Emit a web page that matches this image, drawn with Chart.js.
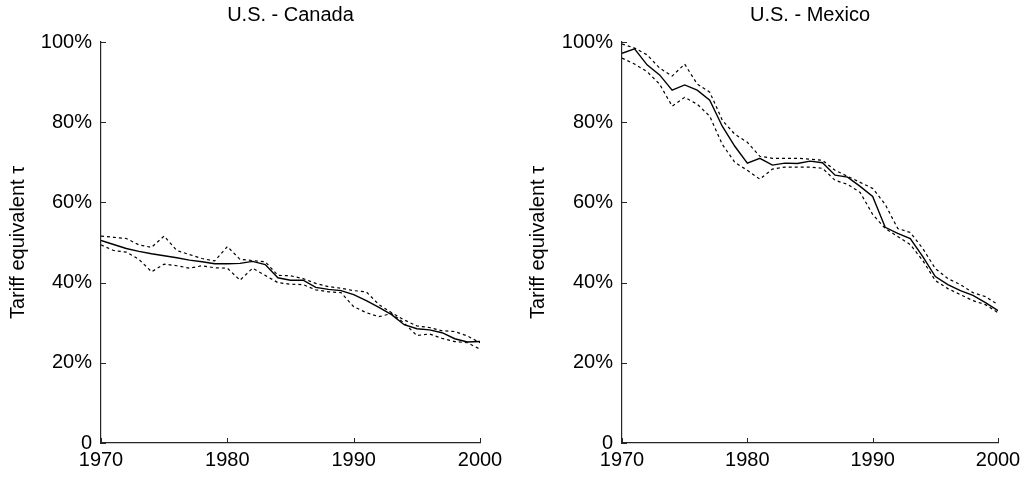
<!DOCTYPE html>
<html>
<head>
<meta charset="utf-8">
<script src="https://cdn.jsdelivr.net/npm/chart.js@4.4.1/dist/chart.umd.min.js"></script>
<style>
  html, body { margin: 0; padding: 0; background: #fff; }
  canvas { position: absolute; top: 0; }
</style>
</head>
<body>
<canvas id="canada" width="513" height="477" style="left:0"></canvas>
<canvas id="mexico" width="513" height="477" style="left:513px"></canvas>
<script>
const years = [1970, 1971, 1972, 1973, 1974, 1975, 1976, 1977, 1978, 1979,
  1980, 1981, 1982, 1983, 1984, 1985, 1986, 1987, 1988, 1989,
  1990, 1991, 1992, 1993, 1994, 1995, 1996, 1997, 1998, 1999, 2000];

// U.S. - Canada
const canadaMid = [50.5, 49.5, 48.5, 47.8, 47.2, 46.7, 46.2, 45.6, 45.2, 44.7,
  44.7, 44.8, 45.3, 44.5, 41.2, 40.6, 40.6, 38.8, 38.3, 38.0,
  37.0, 35.5, 33.8, 32.0, 29.5, 28.5, 28.2, 27.5, 26.0, 25.2, 25.3];
const canadaHigh = [51.6, 51.3, 51.0, 49.4, 48.8, 51.6, 48.0, 47.0, 46.0, 45.4,
  49.0, 45.8, 45.5, 45.2, 41.8, 41.7, 41.0, 39.8, 39.0, 38.6,
  38.0, 37.7, 34.5, 32.5, 30.7, 29.2, 28.8, 28.0, 27.8, 26.7, 25.0];
const canadaLow = [49.4, 48.0, 47.6, 45.8, 42.7, 44.6, 44.2, 43.6, 44.2, 43.7,
  43.6, 40.6, 43.6, 41.8, 40.0, 39.6, 39.5, 38.2, 37.7, 37.5,
  34.0, 32.5, 31.5, 32.3, 29.9, 26.8, 27.2, 26.1, 25.3, 25.0, 23.4];

// U.S. - Mexico
const mexicoMid = [97.2, 98.3, 94.3, 91.8, 88.0, 89.3, 88.0, 85.5, 79.0, 74.0,
  69.8, 71.0, 69.3, 69.8, 69.7, 70.3, 69.9, 66.8, 66.3, 64.0,
  61.5, 53.8, 52.3, 51.0, 46.5, 41.5, 39.5, 38.0, 36.8, 35.0, 33.0];
const mexicoHigh = [99.5, 98.5, 96.8, 93.5, 91.5, 94.5, 89.5, 87.5, 80.5, 77.0,
  75.0, 71.5, 71.0, 71.0, 71.0, 70.8, 70.5, 68.0, 66.5, 65.0,
  63.5, 59.5, 53.5, 52.5, 48.5, 43.5, 41.0, 39.5, 37.5, 36.5, 34.5];
const mexicoLow = [96.0, 94.5, 92.6, 89.5, 84.0, 86.2, 84.5, 81.5, 74.5, 70.0,
  68.0, 65.8, 68.3, 68.8, 68.8, 68.8, 68.5, 65.5, 64.5, 62.5,
  57.0, 53.5, 51.5, 49.5, 45.5, 40.5, 38.5, 37.0, 35.5, 34.5, 32.5];

const yTicks = [0, 20, 40, 60, 80, 100];
const xTicks = [1970, 1980, 1990, 2000];
const FONT = "'Liberation Sans', Arial, sans-serif";

// matlab style: title over the plot area and ticks pointing inside
const matlabAxes = {
  id: 'matlabAxes',
  afterDraw(chart, args, opts) {
    const { ctx, chartArea: a, scales: { x, y } } = chart;
    ctx.save();
    ctx.strokeStyle = '#262626';
    ctx.lineWidth = 1;
    ctx.beginPath();
    xTicks.forEach(v => {
      const px = Math.round(x.getPixelForValue(v)) + 0.5;
      ctx.moveTo(px, a.bottom);
      ctx.lineTo(px, a.bottom - 5);
    });
    yTicks.forEach(v => {
      const py = Math.round(y.getPixelForValue(v)) + 0.5;
      ctx.moveTo(a.left, py);
      ctx.lineTo(a.left + 5, py);
    });
    ctx.stroke();
    ctx.font = '20px ' + FONT;
    ctx.fillStyle = '#000';
    ctx.textAlign = 'center';
    ctx.textBaseline = 'middle';
    ctx.fillText(opts.text, (a.left + a.right) / 2, 15);
    ctx.restore();
  }
};

function line(values, dashed) {
  return {
    data: values.map((v, i) => ({ x: years[i], y: v })),
    borderColor: '#000',
    borderWidth: dashed ? 1.2 : 1.4,
    borderDash: dashed ? [3, 3] : [],
    pointRadius: 0,
    tension: 0,
    fill: false,
  };
}

function makeChart(id, title, mid, high, low, pad, yWidth, titlePad) {
  const ctx = document.getElementById(id).getContext('2d');
  return new Chart(ctx, {
    type: 'line',
    data: {
      datasets: [line(high, true), line(low, true), line(mid, false)],
    },
    options: {
      responsive: false,
      animation: false,
      layout: { padding: pad },
      plugins: {
        legend: { display: false },
        tooltip: { enabled: false },
        matlabAxes: { text: title },
      },
      scales: {
        x: {
          type: 'linear',
          min: 1970,
          max: 2000,
          afterBuildTicks: s => { s.ticks = xTicks.map(v => ({ value: v })); },
          ticks: {
            color: '#000',
            font: { family: FONT, size: 20 },
            padding: 5,
            maxRotation: 0,
            callback: v => String(v),
          },
          grid: { display: true, drawOnChartArea: false, drawTicks: false },
          border: { display: true, color: '#262626', width: 1.2 },
          afterFit: s => { s.height = 34; },
        },
        y: {
          min: 0,
          max: 100,
          afterBuildTicks: s => { s.ticks = yTicks.map(v => ({ value: v })); },
          ticks: {
            color: '#000',
            font: { family: FONT, size: 20 },
            padding: 9,
            callback: v => v === 0 ? '0' : v + '%',
          },
          title: {
            display: true,
            text: 'Tariff equivalent τ',
            color: '#000',
            font: { family: FONT, size: 20 },
            padding: titlePad,
          },
          grid: { display: true, drawOnChartArea: false, drawTicks: false },
          border: { display: true, color: '#262626', width: 1.2 },
          afterFit: s => { s.width = yWidth; },
        },
      },
    },
    plugins: [matlabAxes],
  });
}

makeChart('canada', 'U.S. - Canada', canadaMid, canadaHigh, canadaLow,
  { top: 42, left: 2, right: 33, bottom: 0 }, 99, 4);
makeChart('mexico', 'U.S. - Mexico', mexicoMid, mexicoHigh, mexicoLow,
  { top: 42, left: 7, right: 28, bottom: 0 }, 102, 6);
</script>
</body>
</html>
